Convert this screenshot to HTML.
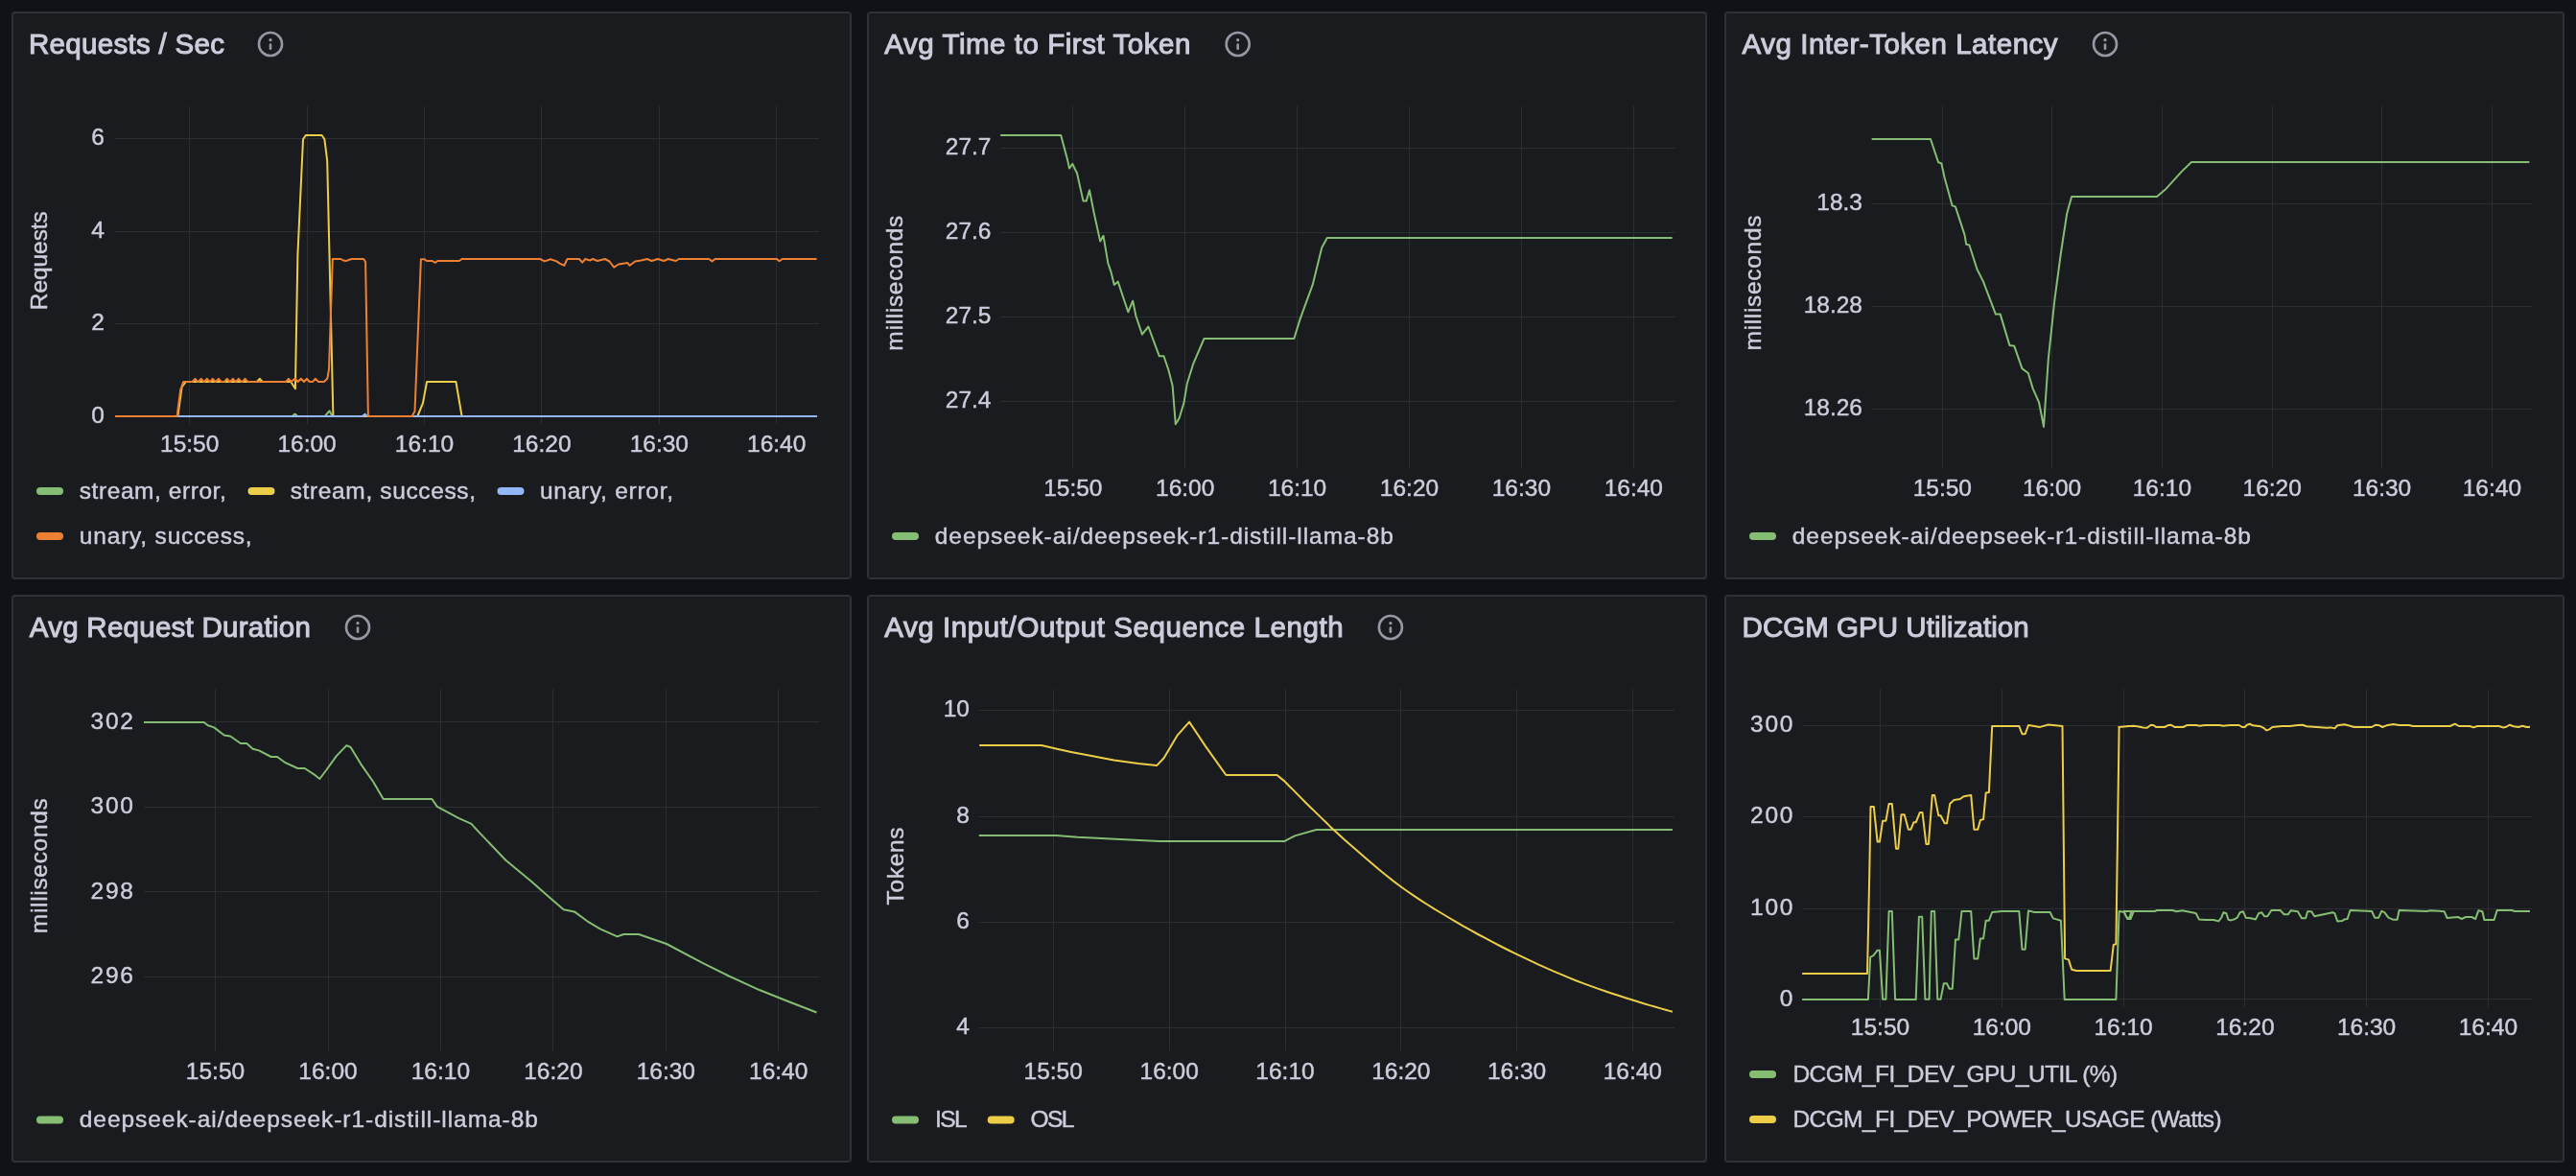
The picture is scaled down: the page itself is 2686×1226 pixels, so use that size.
<!DOCTYPE html>
<html><head><meta charset="utf-8"><title>Dashboard</title>
<style>html,body{margin:0;padding:0;background:#111217;width:2686px;height:1226px;overflow:hidden;font-family:"Liberation Sans", sans-serif;}</style>
</head><body>
<svg width="2686" height="1226" viewBox="0 0 2686 1226" style="display:block;will-change:transform" font-family="&quot;Liberation Sans&quot;, sans-serif"><rect x="13" y="13" width="874" height="590" rx="3" ry="3" fill="#191b1f" stroke="#2f3136" stroke-width="2"/><rect x="905" y="13" width="874" height="590" rx="3" ry="3" fill="#191b1f" stroke="#2f3136" stroke-width="2"/><rect x="1799" y="13" width="874" height="590" rx="3" ry="3" fill="#191b1f" stroke="#2f3136" stroke-width="2"/><rect x="13" y="621" width="874" height="590" rx="3" ry="3" fill="#191b1f" stroke="#2f3136" stroke-width="2"/><rect x="905" y="621" width="874" height="590" rx="3" ry="3" fill="#191b1f" stroke="#2f3136" stroke-width="2"/><rect x="1799" y="621" width="874" height="590" rx="3" ry="3" fill="#191b1f" stroke="#2f3136" stroke-width="2"/><text x="30" y="56.3" font-size="29.5" textLength="204" lengthAdjust="spacing" fill="#ccccdb" stroke="#ccccdb" stroke-width="1.05">Requests / Sec</text><g transform="translate(266,30) scale(1.3333333333333333)" fill="#9797a3"><path d="M12,2A10,10,0,1,0,22,12,10,10,0,0,0,12,2Zm0,18a8,8,0,1,1,8-8A8,8,0,0,1,12,20Zm0-8.5a1,1,0,0,0-1,1v3a1,1,0,0,0,2,0v-3A1,1,0,0,0,12,11.5Zm0-4a1.25,1.25,0,1,0,1.25,1.25A1.25,1.25,0,0,0,12,7.5Z"/></g><line x1="197.5" y1="110.5" x2="197.5" y2="442" stroke="#2b2f32" stroke-width="1"/><line x1="320.5" y1="110.5" x2="320.5" y2="442" stroke="#2b2f32" stroke-width="1"/><line x1="442.5" y1="110.5" x2="442.5" y2="442" stroke="#2b2f32" stroke-width="1"/><line x1="564.5" y1="110.5" x2="564.5" y2="442" stroke="#2b2f32" stroke-width="1"/><line x1="687.5" y1="110.5" x2="687.5" y2="442" stroke="#2b2f32" stroke-width="1"/><line x1="809.5" y1="110.5" x2="809.5" y2="442" stroke="#2b2f32" stroke-width="1"/><line x1="120" y1="144.5" x2="854" y2="144.5" stroke="#2b2f32" stroke-width="1"/><line x1="120" y1="241.5" x2="854" y2="241.5" stroke="#2b2f32" stroke-width="1"/><line x1="120" y1="337.5" x2="854" y2="337.5" stroke="#2b2f32" stroke-width="1"/><line x1="120" y1="433.5" x2="854" y2="433.5" stroke="#2b2f32" stroke-width="1"/><text x="109" y="151.4" font-size="24.5" text-anchor="end" fill="#ccccdb" stroke="#ccccdb" stroke-width="0.45">6</text><text x="109" y="247.8" font-size="24.5" text-anchor="end" fill="#ccccdb" stroke="#ccccdb" stroke-width="0.45">4</text><text x="109" y="344.2" font-size="24.5" text-anchor="end" fill="#ccccdb" stroke="#ccccdb" stroke-width="0.45">2</text><text x="109" y="440.6" font-size="24.5" text-anchor="end" fill="#ccccdb" stroke="#ccccdb" stroke-width="0.45">0</text><text x="197.7" y="471" font-size="24.5" text-anchor="middle" fill="#ccccdb" stroke="#ccccdb" stroke-width="0.45">15:50</text><text x="320.1" y="471" font-size="24.5" text-anchor="middle" fill="#ccccdb" stroke="#ccccdb" stroke-width="0.45">16:00</text><text x="442.5" y="471" font-size="24.5" text-anchor="middle" fill="#ccccdb" stroke="#ccccdb" stroke-width="0.45">16:10</text><text x="564.9" y="471" font-size="24.5" text-anchor="middle" fill="#ccccdb" stroke="#ccccdb" stroke-width="0.45">16:20</text><text x="687.3" y="471" font-size="24.5" text-anchor="middle" fill="#ccccdb" stroke="#ccccdb" stroke-width="0.45">16:30</text><text x="809.7" y="471" font-size="24.5" text-anchor="middle" fill="#ccccdb" stroke="#ccccdb" stroke-width="0.45">16:40</text><text transform="translate(48.5,271.7) rotate(-90)" x="0" y="0" font-size="24.5" text-anchor="middle" textLength="103" lengthAdjust="spacing" fill="#ccccdb" stroke="#ccccdb" stroke-width="0.45">Requests</text><polyline points="120.0,434.0 304.7,434.0 307.5,431.5 310.3,434.0 338.7,434.0 343.5,428.3 346.5,434.0 851.6,434.0" fill="none" stroke="#85bd72" stroke-width="2" stroke-linejoin="round" stroke-linecap="butt"/><polyline points="120.0,434.0 185.4,434.0 189.6,403.5 193.9,398.0 268.0,398.0 270.8,394.8 273.6,398.0 303.3,398.0 307.9,405.3 310.4,266.0 316.0,145.3 318.8,141.0 335.6,141.0 338.4,145.3 341.2,167.7 347.4,434.0 435.3,434.0 440.9,420.4 445.1,398.0 475.4,398.0 481.6,434.0 851.6,434.0" fill="none" stroke="#eccd47" stroke-width="2" stroke-linejoin="round" stroke-linecap="butt"/><polyline points="120.0,434.0 378.0,434.0 380.5,431.6 383.0,434.0 851.6,434.0" fill="none" stroke="#94b7f9" stroke-width="2" stroke-linejoin="round" stroke-linecap="butt"/><polyline points="120.0,434.0 184.6,434.0 188.2,406.3 191.2,398.0 200.6,398.0 200.6,398.0 203.4,394.8 206.2,398.0 206.9,398.0 209.7,394.8 212.5,398.0 213.0,398.0 215.8,394.8 218.6,398.0 219.0,398.0 221.8,394.8 224.6,398.0 225.1,398.0 227.9,394.8 230.7,398.0 233.9,398.0 236.7,394.8 239.5,398.0 240.0,398.0 242.8,394.8 245.6,398.0 246.0,398.0 248.8,394.8 251.6,398.0 252.7,398.0 255.5,394.8 258.3,398.0 298.2,398.0 300.9,394.8 303.7,398.0 307.5,394.8 310.7,398.0 313.8,394.8 317.0,398.0 319.8,394.8 322.9,398.0 326.0,398.0 328.8,394.8 332.0,398.0 337.9,398.0 341.4,394.5 343.0,385.0 346.8,270.0 355.3,270.0 358.0,271.5 360.9,272.1 363.0,271.2 366.5,270.0 379.1,270.0 381.1,273.0 383.9,434.0 429.6,434.0 432.5,428.8 438.9,270.2 442.3,270.2 445.1,272.1 450.7,272.1 454.1,273.8 456.3,272.0 478.8,272.0 481.6,270.0 563.0,270.0 567.9,272.4 574.0,270.2 580.4,272.4 583.6,274.6 588.3,276.8 591.5,270.0 604.0,270.0 607.2,273.7 610.3,270.0 615.0,271.5 618.2,270.0 622.9,272.0 630.8,270.0 635.5,272.5 640.2,278.7 645.0,275.5 654.4,274.0 656.6,276.8 662.2,272.5 668.5,271.5 674.8,270.0 679.5,272.0 685.8,270.0 692.1,272.0 696.8,270.0 704.7,272.0 707.9,270.0 739.3,270.0 742.5,272.4 745.6,270.0 810.1,270.0 812.6,272.2 815.8,270.0 851.6,270.0" fill="none" stroke="#ee8033" stroke-width="2" stroke-linejoin="round" stroke-linecap="butt"/><rect x="38" y="508" width="28" height="8" rx="4" ry="4" fill="#85bd72"/><text x="82.8" y="520" font-size="24.5" text-anchor="start" textLength="153" lengthAdjust="spacing" fill="#ccccdb" stroke="#ccccdb" stroke-width="0.45">stream, error,</text><rect x="258.5" y="508" width="28" height="8" rx="4" ry="4" fill="#eccd47"/><text x="302.7" y="520" font-size="24.5" text-anchor="start" textLength="193.3" lengthAdjust="spacing" fill="#ccccdb" stroke="#ccccdb" stroke-width="0.45">stream, success,</text><rect x="518.5" y="508" width="28" height="8" rx="4" ry="4" fill="#94b7f9"/><text x="563" y="520" font-size="24.5" text-anchor="start" textLength="139" lengthAdjust="spacing" fill="#ccccdb" stroke="#ccccdb" stroke-width="0.45">unary, error,</text><rect x="38" y="555" width="28" height="8" rx="4" ry="4" fill="#ee8033"/><text x="82.8" y="566.7" font-size="24.5" text-anchor="start" textLength="179.8" lengthAdjust="spacing" fill="#ccccdb" stroke="#ccccdb" stroke-width="0.45">unary, success,</text><text x="922.3" y="56.3" font-size="29.5" textLength="319" lengthAdjust="spacing" fill="#ccccdb" stroke="#ccccdb" stroke-width="1.05">Avg Time to First Token</text><g transform="translate(1274.7,30) scale(1.3333333333333333)" fill="#9797a3"><path d="M12,2A10,10,0,1,0,22,12,10,10,0,0,0,12,2Zm0,18a8,8,0,1,1,8-8A8,8,0,0,1,12,20Zm0-8.5a1,1,0,0,0-1,1v3a1,1,0,0,0,2,0v-3A1,1,0,0,0,12,11.5Zm0-4a1.25,1.25,0,1,0,1.25,1.25A1.25,1.25,0,0,0,12,7.5Z"/></g><line x1="1118.5" y1="110.5" x2="1118.5" y2="488.5" stroke="#2b2f32" stroke-width="1"/><line x1="1235.5" y1="110.5" x2="1235.5" y2="488.5" stroke="#2b2f32" stroke-width="1"/><line x1="1352.5" y1="110.5" x2="1352.5" y2="488.5" stroke="#2b2f32" stroke-width="1"/><line x1="1469.5" y1="110.5" x2="1469.5" y2="488.5" stroke="#2b2f32" stroke-width="1"/><line x1="1586.5" y1="110.5" x2="1586.5" y2="488.5" stroke="#2b2f32" stroke-width="1"/><line x1="1703.5" y1="110.5" x2="1703.5" y2="488.5" stroke="#2b2f32" stroke-width="1"/><line x1="1043.2" y1="154.5" x2="1746.7" y2="154.5" stroke="#2b2f32" stroke-width="1"/><line x1="1043.2" y1="242.5" x2="1746.7" y2="242.5" stroke="#2b2f32" stroke-width="1"/><line x1="1043.2" y1="330.5" x2="1746.7" y2="330.5" stroke="#2b2f32" stroke-width="1"/><line x1="1043.2" y1="418.5" x2="1746.7" y2="418.5" stroke="#2b2f32" stroke-width="1"/><text x="1033.5" y="161.4" font-size="24.5" text-anchor="end" fill="#ccccdb" stroke="#ccccdb" stroke-width="0.45">27.7</text><text x="1033.5" y="249.3" font-size="24.5" text-anchor="end" fill="#ccccdb" stroke="#ccccdb" stroke-width="0.45">27.6</text><text x="1033.5" y="337.2" font-size="24.5" text-anchor="end" fill="#ccccdb" stroke="#ccccdb" stroke-width="0.45">27.5</text><text x="1033.5" y="425.2" font-size="24.5" text-anchor="end" fill="#ccccdb" stroke="#ccccdb" stroke-width="0.45">27.4</text><text x="1118.8" y="517" font-size="24.5" text-anchor="middle" fill="#ccccdb" stroke="#ccccdb" stroke-width="0.45">15:50</text><text x="1235.7" y="517" font-size="24.5" text-anchor="middle" fill="#ccccdb" stroke="#ccccdb" stroke-width="0.45">16:00</text><text x="1352.6" y="517" font-size="24.5" text-anchor="middle" fill="#ccccdb" stroke="#ccccdb" stroke-width="0.45">16:10</text><text x="1469.5" y="517" font-size="24.5" text-anchor="middle" fill="#ccccdb" stroke="#ccccdb" stroke-width="0.45">16:20</text><text x="1586.4" y="517" font-size="24.5" text-anchor="middle" fill="#ccccdb" stroke="#ccccdb" stroke-width="0.45">16:30</text><text x="1703.3" y="517" font-size="24.5" text-anchor="middle" fill="#ccccdb" stroke="#ccccdb" stroke-width="0.45">16:40</text><text transform="translate(941,295.2) rotate(-90)" x="0" y="0" font-size="24.5" text-anchor="middle" textLength="141" lengthAdjust="spacing" fill="#ccccdb" stroke="#ccccdb" stroke-width="0.45">milliseconds</text><polyline points="1043.2,141.0 1106.2,141.0 1113.3,167.6 1115.0,175.6 1118.2,170.8 1123.0,180.5 1129.5,209.6 1132.7,209.6 1136.0,198.3 1140.8,222.5 1147.2,251.6 1150.5,245.8 1155.3,274.2 1158.6,283.9 1161.8,296.9 1165.7,293.6 1176.3,325.3 1181.2,313.7 1184.4,329.2 1190.9,348.6 1197.4,340.5 1208.7,371.2 1213.5,371.2 1218.4,385.7 1222.6,401.9 1225.8,442.3 1229.7,435.8 1234.5,419.7 1237.7,400.3 1244.2,379.3 1255.5,353.0 1349.3,353.0 1355.7,332.4 1368.7,296.9 1378.3,258.1 1383.8,248.0 1743.6,248.0" fill="none" stroke="#85bd72" stroke-width="2" stroke-linejoin="round" stroke-linecap="butt"/><rect x="930" y="555" width="28" height="8" rx="4" ry="4" fill="#85bd72"/><text x="974.8" y="566.9" font-size="24.5" text-anchor="start" textLength="478.1" lengthAdjust="spacing" fill="#ccccdb" stroke="#ccccdb" stroke-width="0.45">deepseek-ai/deepseek-r1-distill-llama-8b</text><text x="1816.6" y="56.3" font-size="29.5" textLength="329" lengthAdjust="spacing" fill="#ccccdb" stroke="#ccccdb" stroke-width="1.05">Avg Inter-Token Latency</text><g transform="translate(2179,30) scale(1.3333333333333333)" fill="#9797a3"><path d="M12,2A10,10,0,1,0,22,12,10,10,0,0,0,12,2Zm0,18a8,8,0,1,1,8-8A8,8,0,0,1,12,20Zm0-8.5a1,1,0,0,0-1,1v3a1,1,0,0,0,2,0v-3A1,1,0,0,0,12,11.5Zm0-4a1.25,1.25,0,1,0,1.25,1.25A1.25,1.25,0,0,0,12,7.5Z"/></g><line x1="2025.5" y1="110.5" x2="2025.5" y2="488.5" stroke="#2b2f32" stroke-width="1"/><line x1="2139.5" y1="110.5" x2="2139.5" y2="488.5" stroke="#2b2f32" stroke-width="1"/><line x1="2254.5" y1="110.5" x2="2254.5" y2="488.5" stroke="#2b2f32" stroke-width="1"/><line x1="2369.5" y1="110.5" x2="2369.5" y2="488.5" stroke="#2b2f32" stroke-width="1"/><line x1="2483.5" y1="110.5" x2="2483.5" y2="488.5" stroke="#2b2f32" stroke-width="1"/><line x1="2598.5" y1="110.5" x2="2598.5" y2="488.5" stroke="#2b2f32" stroke-width="1"/><line x1="1951.6" y1="212.5" x2="2640" y2="212.5" stroke="#2b2f32" stroke-width="1"/><line x1="1951.6" y1="319.5" x2="2640" y2="319.5" stroke="#2b2f32" stroke-width="1"/><line x1="1951.6" y1="426.5" x2="2640" y2="426.5" stroke="#2b2f32" stroke-width="1"/><text x="1942" y="219.3" font-size="24.5" text-anchor="end" fill="#ccccdb" stroke="#ccccdb" stroke-width="0.45">18.3</text><text x="1942" y="326.3" font-size="24.5" text-anchor="end" fill="#ccccdb" stroke="#ccccdb" stroke-width="0.45">18.28</text><text x="1942" y="433.3" font-size="24.5" text-anchor="end" fill="#ccccdb" stroke="#ccccdb" stroke-width="0.45">18.26</text><text x="2025.3" y="517" font-size="24.5" text-anchor="middle" fill="#ccccdb" stroke="#ccccdb" stroke-width="0.45">15:50</text><text x="2139.6" y="517" font-size="24.5" text-anchor="middle" fill="#ccccdb" stroke="#ccccdb" stroke-width="0.45">16:00</text><text x="2254.4" y="517" font-size="24.5" text-anchor="middle" fill="#ccccdb" stroke="#ccccdb" stroke-width="0.45">16:10</text><text x="2369.2" y="517" font-size="24.5" text-anchor="middle" fill="#ccccdb" stroke="#ccccdb" stroke-width="0.45">16:20</text><text x="2483.6" y="517" font-size="24.5" text-anchor="middle" fill="#ccccdb" stroke="#ccccdb" stroke-width="0.45">16:30</text><text x="2598.4" y="517" font-size="24.5" text-anchor="middle" fill="#ccccdb" stroke="#ccccdb" stroke-width="0.45">16:40</text><text transform="translate(1836,295) rotate(-90)" x="0" y="0" font-size="24.5" text-anchor="middle" textLength="141" lengthAdjust="spacing" fill="#ccccdb" stroke="#ccccdb" stroke-width="0.45">milliseconds</text><polyline points="1951.6,145.0 2013.0,145.0 2021.1,169.2 2024.3,170.2 2027.6,185.3 2035.6,214.4 2038.9,215.4 2048.6,245.1 2050.2,254.8 2053.4,255.5 2061.5,280.7 2068.0,293.6 2080.9,327.6 2085.7,327.6 2095.4,359.9 2100.3,360.8 2108.4,384.1 2114.8,389.0 2119.7,405.1 2126.1,419.7 2131.0,444.9 2135.8,374.4 2142.3,313.0 2148.8,264.5 2155.2,222.5 2160.1,205.0 2249.0,205.0 2258.7,196.7 2274.8,178.9 2285.0,169.0 2637.4,169.0" fill="none" stroke="#85bd72" stroke-width="2" stroke-linejoin="round" stroke-linecap="butt"/><rect x="1824" y="555" width="28" height="8" rx="4" ry="4" fill="#85bd72"/><text x="1868.8" y="566.9" font-size="24.5" text-anchor="start" textLength="478.1" lengthAdjust="spacing" fill="#ccccdb" stroke="#ccccdb" stroke-width="0.45">deepseek-ai/deepseek-r1-distill-llama-8b</text><text x="30.8" y="664.3" font-size="29.5" textLength="293" lengthAdjust="spacing" fill="#ccccdb" stroke="#ccccdb" stroke-width="1.05">Avg Request Duration</text><g transform="translate(357,638) scale(1.3333333333333333)" fill="#9797a3"><path d="M12,2A10,10,0,1,0,22,12,10,10,0,0,0,12,2Zm0,18a8,8,0,1,1,8-8A8,8,0,0,1,12,20Zm0-8.5a1,1,0,0,0-1,1v3a1,1,0,0,0,2,0v-3A1,1,0,0,0,12,11.5Zm0-4a1.25,1.25,0,1,0,1.25,1.25A1.25,1.25,0,0,0,12,7.5Z"/></g><line x1="224.5" y1="718.7" x2="224.5" y2="1095.9" stroke="#2b2f32" stroke-width="1"/><line x1="342.5" y1="718.7" x2="342.5" y2="1095.9" stroke="#2b2f32" stroke-width="1"/><line x1="459.5" y1="718.7" x2="459.5" y2="1095.9" stroke="#2b2f32" stroke-width="1"/><line x1="576.5" y1="718.7" x2="576.5" y2="1095.9" stroke="#2b2f32" stroke-width="1"/><line x1="694.5" y1="718.7" x2="694.5" y2="1095.9" stroke="#2b2f32" stroke-width="1"/><line x1="811.5" y1="718.7" x2="811.5" y2="1095.9" stroke="#2b2f32" stroke-width="1"/><line x1="150" y1="752.5" x2="854.7" y2="752.5" stroke="#2b2f32" stroke-width="1"/><line x1="150" y1="841.5" x2="854.7" y2="841.5" stroke="#2b2f32" stroke-width="1"/><line x1="150" y1="929.5" x2="854.7" y2="929.5" stroke="#2b2f32" stroke-width="1"/><line x1="150" y1="1018.5" x2="854.7" y2="1018.5" stroke="#2b2f32" stroke-width="1"/><text x="139" y="759.6" font-size="24.5" text-anchor="end" textLength="44.5" lengthAdjust="spacing" fill="#ccccdb" stroke="#ccccdb" stroke-width="0.45">302</text><text x="139" y="848.1" font-size="24.5" text-anchor="end" textLength="44.5" lengthAdjust="spacing" fill="#ccccdb" stroke="#ccccdb" stroke-width="0.45">300</text><text x="139" y="936.5" font-size="24.5" text-anchor="end" textLength="44.5" lengthAdjust="spacing" fill="#ccccdb" stroke="#ccccdb" stroke-width="0.45">298</text><text x="139" y="1025.0" font-size="24.5" text-anchor="end" textLength="44.5" lengthAdjust="spacing" fill="#ccccdb" stroke="#ccccdb" stroke-width="0.45">296</text><text x="224.5" y="1125" font-size="24.5" text-anchor="middle" fill="#ccccdb" stroke="#ccccdb" stroke-width="0.45">15:50</text><text x="342.0" y="1125" font-size="24.5" text-anchor="middle" fill="#ccccdb" stroke="#ccccdb" stroke-width="0.45">16:00</text><text x="459.4" y="1125" font-size="24.5" text-anchor="middle" fill="#ccccdb" stroke="#ccccdb" stroke-width="0.45">16:10</text><text x="576.9" y="1125" font-size="24.5" text-anchor="middle" fill="#ccccdb" stroke="#ccccdb" stroke-width="0.45">16:20</text><text x="694.3" y="1125" font-size="24.5" text-anchor="middle" fill="#ccccdb" stroke="#ccccdb" stroke-width="0.45">16:30</text><text x="811.7" y="1125" font-size="24.5" text-anchor="middle" fill="#ccccdb" stroke="#ccccdb" stroke-width="0.45">16:40</text><text transform="translate(48.8,902.7) rotate(-90)" x="0" y="0" font-size="24.5" text-anchor="middle" textLength="141" lengthAdjust="spacing" fill="#ccccdb" stroke="#ccccdb" stroke-width="0.45">milliseconds</text><polyline points="150.0,753.0 212.6,753.0 216.8,756.3 223.2,758.4 233.8,766.5 240.2,767.5 250.9,775.0 257.2,775.0 263.6,780.7 270.0,782.4 282.7,789.0 289.1,789.0 297.6,795.2 310.4,801.0 317.8,801.0 327.4,807.3 333.3,812.0 340.1,803.0 350.8,788.1 361.4,777.1 365.6,779.0 376.3,796.6 389.0,814.7 399.7,833.0 450.4,833.0 455.8,840.9 478.1,852.9 491.5,858.8 498.3,866.4 527.3,896.8 554.2,919.1 572.0,934.8 587.7,948.2 598.9,950.4 612.3,960.3 625.7,968.3 643.6,976.4 650.3,974.0 666.0,974.0 695.0,984.0 733.0,1004.1 759.9,1017.5 791.2,1031.8 822.5,1044.3 851.5,1055.5" fill="none" stroke="#85bd72" stroke-width="2" stroke-linejoin="round" stroke-linecap="butt"/><rect x="38" y="1163.4" width="28" height="8" rx="4" ry="4" fill="#85bd72"/><text x="82.8" y="1174.5" font-size="24.5" text-anchor="start" textLength="478.1" lengthAdjust="spacing" fill="#ccccdb" stroke="#ccccdb" stroke-width="0.45">deepseek-ai/deepseek-r1-distill-llama-8b</text><text x="922.3" y="664.3" font-size="29.5" textLength="478.3" lengthAdjust="spacing" fill="#ccccdb" stroke="#ccccdb" stroke-width="1.05">Avg Input/Output Sequence Length</text><g transform="translate(1433.9,638) scale(1.3333333333333333)" fill="#9797a3"><path d="M12,2A10,10,0,1,0,22,12,10,10,0,0,0,12,2Zm0,18a8,8,0,1,1,8-8A8,8,0,0,1,12,20Zm0-8.5a1,1,0,0,0-1,1v3a1,1,0,0,0,2,0v-3A1,1,0,0,0,12,11.5Zm0-4a1.25,1.25,0,1,0,1.25,1.25A1.25,1.25,0,0,0,12,7.5Z"/></g><line x1="1098.5" y1="718.7" x2="1098.5" y2="1095.9" stroke="#2b2f32" stroke-width="1"/><line x1="1219.5" y1="718.7" x2="1219.5" y2="1095.9" stroke="#2b2f32" stroke-width="1"/><line x1="1340.5" y1="718.7" x2="1340.5" y2="1095.9" stroke="#2b2f32" stroke-width="1"/><line x1="1460.5" y1="718.7" x2="1460.5" y2="1095.9" stroke="#2b2f32" stroke-width="1"/><line x1="1581.5" y1="718.7" x2="1581.5" y2="1095.9" stroke="#2b2f32" stroke-width="1"/><line x1="1702.5" y1="718.7" x2="1702.5" y2="1095.9" stroke="#2b2f32" stroke-width="1"/><line x1="1021" y1="740.5" x2="1746.1" y2="740.5" stroke="#2b2f32" stroke-width="1"/><line x1="1021" y1="851.5" x2="1746.1" y2="851.5" stroke="#2b2f32" stroke-width="1"/><line x1="1021" y1="961.5" x2="1746.1" y2="961.5" stroke="#2b2f32" stroke-width="1"/><line x1="1021" y1="1071.5" x2="1746.1" y2="1071.5" stroke="#2b2f32" stroke-width="1"/><text x="1011" y="747.1" font-size="24.5" text-anchor="end" fill="#ccccdb" stroke="#ccccdb" stroke-width="0.45">10</text><text x="1011" y="858.0" font-size="24.5" text-anchor="end" fill="#ccccdb" stroke="#ccccdb" stroke-width="0.45">8</text><text x="1011" y="968.0" font-size="24.5" text-anchor="end" fill="#ccccdb" stroke="#ccccdb" stroke-width="0.45">6</text><text x="1011" y="1078.1" font-size="24.5" text-anchor="end" fill="#ccccdb" stroke="#ccccdb" stroke-width="0.45">4</text><text x="1098.2" y="1125" font-size="24.5" text-anchor="middle" fill="#ccccdb" stroke="#ccccdb" stroke-width="0.45">15:50</text><text x="1219.2" y="1125" font-size="24.5" text-anchor="middle" fill="#ccccdb" stroke="#ccccdb" stroke-width="0.45">16:00</text><text x="1340.0" y="1125" font-size="24.5" text-anchor="middle" fill="#ccccdb" stroke="#ccccdb" stroke-width="0.45">16:10</text><text x="1460.8" y="1125" font-size="24.5" text-anchor="middle" fill="#ccccdb" stroke="#ccccdb" stroke-width="0.45">16:20</text><text x="1581.6" y="1125" font-size="24.5" text-anchor="middle" fill="#ccccdb" stroke="#ccccdb" stroke-width="0.45">16:30</text><text x="1702.3" y="1125" font-size="24.5" text-anchor="middle" fill="#ccccdb" stroke="#ccccdb" stroke-width="0.45">16:40</text><text transform="translate(941.5,903) rotate(-90)" x="0" y="0" font-size="24.5" text-anchor="middle" textLength="81" lengthAdjust="spacing" fill="#ccccdb" stroke="#ccccdb" stroke-width="0.45">Tokens</text><polyline points="1020.8,871.0 1101.3,871.0 1123.7,872.7 1168.4,874.9 1208.6,877.0 1338.4,877.0 1339.0,877.2 1350.1,871.4 1372.5,865.0 1743.9,865.0" fill="none" stroke="#85bd72" stroke-width="2" stroke-linejoin="round" stroke-linecap="butt"/><polyline points="1021.2,777.0 1086.0,777.0 1102.0,780.7 1116.8,783.9 1138.1,788.1 1161.5,792.4 1187.0,796.0 1206.1,798.1 1213.6,790.3 1227.4,766.9 1240.1,752.6 1257.1,778.1 1278.4,808.0 1331.5,808.0 1339.0,814.1 1341.4,816.5 1344.5,819.7 1348.3,823.4 1352.4,827.6 1356.9,832.1 1361.4,836.7 1366.0,841.2 1370.3,845.4 1374.4,849.4 1378.5,853.4 1382.6,857.3 1386.7,861.4 1391.1,865.5 1395.7,869.8 1400.6,874.3 1406.0,879.0 1411.8,884.1 1418.1,889.6 1424.7,895.3 1431.5,901.1 1438.5,907.0 1445.6,912.8 1452.7,918.4 1459.8,923.7 1466.8,928.7 1473.9,933.6 1481.1,938.4 1488.3,943.0 1495.6,947.6 1503.0,952.0 1510.4,956.5 1517.9,960.9 1525.5,965.3 1533.3,969.7 1541.1,974.0 1549.0,978.2 1556.9,982.4 1564.8,986.5 1572.7,990.5 1580.6,994.4 1588.5,998.2 1596.4,1001.9 1604.3,1005.6 1612.2,1009.1 1620.1,1012.6 1627.9,1015.9 1635.6,1019.1 1643.2,1022.2 1650.8,1025.1 1658.4,1027.9 1666.0,1030.6 1673.6,1033.2 1680.9,1035.7 1688.1,1038.0 1694.9,1040.2 1701.4,1042.3 1707.8,1044.3 1714.1,1046.3 1720.4,1048.1 1726.3,1049.8 1731.8,1051.4 1736.6,1052.7 1740.7,1053.9 1743.9,1054.8" fill="none" stroke="#eccd47" stroke-width="2" stroke-linejoin="round" stroke-linecap="butt"/><rect x="930" y="1163.4" width="28" height="8" rx="4" ry="4" fill="#85bd72"/><text x="975.1" y="1174.5" font-size="24.5" text-anchor="start" textLength="33.6" lengthAdjust="spacing" fill="#ccccdb" stroke="#ccccdb" stroke-width="0.45">ISL</text><rect x="1029.7" y="1163.4" width="28" height="8" rx="4" ry="4" fill="#eccd47"/><text x="1074.5" y="1174.5" font-size="24.5" text-anchor="start" textLength="46" lengthAdjust="spacing" fill="#ccccdb" stroke="#ccccdb" stroke-width="0.45">OSL</text><text x="1816.6" y="664.3" font-size="29.5" textLength="299" lengthAdjust="spacing" fill="#ccccdb" stroke="#ccccdb" stroke-width="1.05">DCGM GPU Utilization</text><line x1="1960.5" y1="718.7" x2="1960.5" y2="1050" stroke="#2b2f32" stroke-width="1"/><line x1="2087.5" y1="718.7" x2="2087.5" y2="1050" stroke="#2b2f32" stroke-width="1"/><line x1="2214.5" y1="718.7" x2="2214.5" y2="1050" stroke="#2b2f32" stroke-width="1"/><line x1="2340.5" y1="718.7" x2="2340.5" y2="1050" stroke="#2b2f32" stroke-width="1"/><line x1="2467.5" y1="718.7" x2="2467.5" y2="1050" stroke="#2b2f32" stroke-width="1"/><line x1="2594.5" y1="718.7" x2="2594.5" y2="1050" stroke="#2b2f32" stroke-width="1"/><line x1="1879.1" y1="756.5" x2="2640.4" y2="756.5" stroke="#2b2f32" stroke-width="1"/><line x1="1879.1" y1="851.5" x2="2640.4" y2="851.5" stroke="#2b2f32" stroke-width="1"/><line x1="1879.1" y1="947.5" x2="2640.4" y2="947.5" stroke="#2b2f32" stroke-width="1"/><line x1="1879.1" y1="1041.5" x2="2640.4" y2="1041.5" stroke="#2b2f32" stroke-width="1"/><text x="1869.5" y="763.3" font-size="24.5" text-anchor="end" textLength="44.5" lengthAdjust="spacing" fill="#ccccdb" stroke="#ccccdb" stroke-width="0.45">300</text><text x="1869.5" y="857.9" font-size="24.5" text-anchor="end" textLength="44.5" lengthAdjust="spacing" fill="#ccccdb" stroke="#ccccdb" stroke-width="0.45">200</text><text x="1869.5" y="953.9" font-size="24.5" text-anchor="end" textLength="44.5" lengthAdjust="spacing" fill="#ccccdb" stroke="#ccccdb" stroke-width="0.45">100</text><text x="1869.5" y="1048.5" font-size="24.5" text-anchor="end" fill="#ccccdb" stroke="#ccccdb" stroke-width="0.45">0</text><text x="1960.5" y="1079" font-size="24.5" text-anchor="middle" fill="#ccccdb" stroke="#ccccdb" stroke-width="0.45">15:50</text><text x="2087.3" y="1079" font-size="24.5" text-anchor="middle" fill="#ccccdb" stroke="#ccccdb" stroke-width="0.45">16:00</text><text x="2214.1" y="1079" font-size="24.5" text-anchor="middle" fill="#ccccdb" stroke="#ccccdb" stroke-width="0.45">16:10</text><text x="2340.9" y="1079" font-size="24.5" text-anchor="middle" fill="#ccccdb" stroke="#ccccdb" stroke-width="0.45">16:20</text><text x="2467.6" y="1079" font-size="24.5" text-anchor="middle" fill="#ccccdb" stroke="#ccccdb" stroke-width="0.45">16:30</text><text x="2594.4" y="1079" font-size="24.5" text-anchor="middle" fill="#ccccdb" stroke="#ccccdb" stroke-width="0.45">16:40</text><polyline points="1879.1,1042.0 1947.9,1042.0 1950.2,997.8 1953.4,996.2 1957.6,990.7 1959.9,990.7 1963.1,1041.7 1966.4,1041.7 1969.6,950.0 1972.8,950.0 1976.1,1042.0 1997.7,1042.0 2000.9,955.8 2004.2,955.8 2007.4,1041.7 2011.6,1041.7 2013.8,950.0 2017.1,950.0 2020.3,1041.7 2023.5,1041.7 2026.8,1025.3 2030.0,1025.3 2032.6,1030.8 2035.8,1030.8 2039.0,979.4 2042.3,979.4 2045.5,950.0 2055.2,950.0 2058.4,999.4 2062.3,999.4 2064.9,978.4 2068.1,978.4 2070.7,959.7 2073.9,959.7 2077.2,951.0 2087.5,950.0 2105.3,950.0 2108.5,989.7 2111.7,989.7 2115.0,949.4 2121.4,951.0 2137.6,951.0 2140.8,957.4 2148.9,959.7 2152.7,1042.0 2206.4,1042.0 2209.6,950.0 2215.1,951.0 2218.3,958.1 2221.6,958.1 2224.8,950.0 2214.3,950.0 2217.3,956.3 2220.4,957.3 2222.4,950.0 2246.9,950.0 2249.0,949.0 2265.3,949.0 2269.4,950.2 2275.5,949.2 2285.7,951.2 2289.8,952.2 2292.9,958.4 2300.0,959.0 2308.2,959.0 2313.3,960.4 2316.3,956.7 2318.4,951.2 2321.4,952.2 2323.5,958.8 2326.5,959.4 2330.6,958.0 2332.7,956.7 2335.7,951.2 2338.8,950.2 2341.8,956.7 2346.9,957.3 2352.0,958.4 2355.1,952.2 2358.2,951.2 2361.2,955.3 2364.3,955.3 2368.4,949.0 2377.6,949.0 2381.6,953.3 2385.7,953.3 2388.8,949.2 2395.9,950.2 2400.0,957.3 2404.1,957.3 2406.1,950.2 2410.2,950.2 2413.3,955.3 2432.2,951.2 2434.3,952.2 2437.3,960.4 2442.4,960.0 2444.5,958.4 2447.6,958.0 2450.6,949.0 2473.1,950.0 2476.1,956.7 2480.2,956.7 2483.3,949.8 2486.3,951.2 2490.4,956.7 2495.5,958.8 2499.6,958.8 2501.6,949.0 2530.2,950.0 2534.3,949.2 2548.6,950.2 2551.6,957.0 2562.9,956.0 2566.9,958.0 2571.0,956.0 2577.1,956.0 2581.2,958.0 2584.3,949.2 2588.4,950.2 2590.4,959.0 2600.6,959.0 2603.7,949.0 2619.0,949.0 2622.0,950.0 2638.0,950.0" fill="none" stroke="#85bd72" stroke-width="2" stroke-linejoin="round" stroke-linecap="butt"/><polyline points="1879.1,1015.0 1947.0,1015.0 1949.2,913.8 1950.5,841.1 1953.8,841.1 1957.6,877.6 1959.9,877.6 1963.1,855.7 1966.4,855.7 1969.6,837.9 1972.8,837.9 1977.0,884.7 1979.3,884.7 1982.5,849.2 1985.7,849.2 1989.9,864.7 1992.5,864.7 1995.4,857.3 1997.7,857.3 2001.9,847.0 2004.5,847.0 2008.4,879.9 2010.9,879.9 2014.8,828.9 2017.1,828.9 2021.3,850.2 2023.5,850.2 2027.7,858.3 2030.0,858.3 2033.2,837.9 2037.4,834.0 2043.9,833.0 2047.1,830.5 2050.3,829.8 2055.2,828.9 2058.4,864.7 2062.3,864.7 2064.9,855.0 2068.1,854.1 2070.7,826.6 2073.9,826.0 2077.2,757.0 2105.3,757.0 2108.5,765.2 2111.7,765.2 2115.0,756.0 2121.4,757.0 2126.3,758.1 2135.9,755.5 2150.5,757.1 2153.1,999.4 2156.9,1000.4 2160.2,1010.7 2165.0,1012.0 2200.6,1012.0 2203.8,984.9 2206.4,984.2 2209.6,758.0 2219.9,757.0 2209.2,758.0 2220.4,757.0 2224.5,756.7 2228.6,757.3 2234.7,758.4 2238.8,758.8 2240.8,757.3 2242.9,755.7 2245.9,756.3 2248.0,758.0 2257.1,758.0 2260.2,756.3 2263.3,755.7 2265.3,756.7 2267.3,758.0 2276.5,758.0 2279.6,756.3 2281.6,756.0 2289.8,756.0 2293.9,756.7 2296.9,756.3 2300.0,756.0 2314.3,756.0 2318.4,756.7 2322.4,756.3 2326.5,756.0 2334.7,756.0 2337.8,758.0 2340.8,758.0 2342.9,755.7 2345.9,754.7 2349.0,756.3 2357.1,757.3 2360.2,758.8 2363.3,761.4 2366.3,760.4 2369.4,758.0 2379.6,757.0 2387.8,757.0 2395.9,756.0 2401.0,755.7 2405.1,757.3 2426.1,758.8 2430.2,758.4 2434.3,759.4 2437.3,756.3 2444.5,755.3 2448.6,756.3 2454.7,758.0 2473.1,758.0 2477.1,755.7 2481.2,756.3 2484.3,758.0 2488.4,756.3 2495.5,755.0 2501.6,756.0 2511.8,756.0 2515.9,757.0 2554.7,757.0 2559.8,754.7 2563.9,757.0 2575.1,757.0 2579.2,758.4 2583.3,757.0 2605.7,757.0 2609.8,758.4 2612.9,758.0 2616.9,755.7 2621.0,757.3 2626.1,758.0 2630.2,756.7 2634.3,758.0 2638.0,758.0" fill="none" stroke="#eccd47" stroke-width="2" stroke-linejoin="round" stroke-linecap="butt"/><rect x="1824" y="1116" width="28" height="8" rx="4" ry="4" fill="#85bd72"/><text x="1869.4" y="1127.5" font-size="24.5" text-anchor="start" textLength="338.8" lengthAdjust="spacing" fill="#ccccdb" stroke="#ccccdb" stroke-width="0.45">DCGM_FI_DEV_GPU_UTIL (%)</text><rect x="1824" y="1163" width="28" height="8" rx="4" ry="4" fill="#eccd47"/><text x="1869.4" y="1174.5" font-size="24.5" text-anchor="start" textLength="447.3" lengthAdjust="spacing" fill="#ccccdb" stroke="#ccccdb" stroke-width="0.45">DCGM_FI_DEV_POWER_USAGE (Watts)</text></svg>
</body></html>
